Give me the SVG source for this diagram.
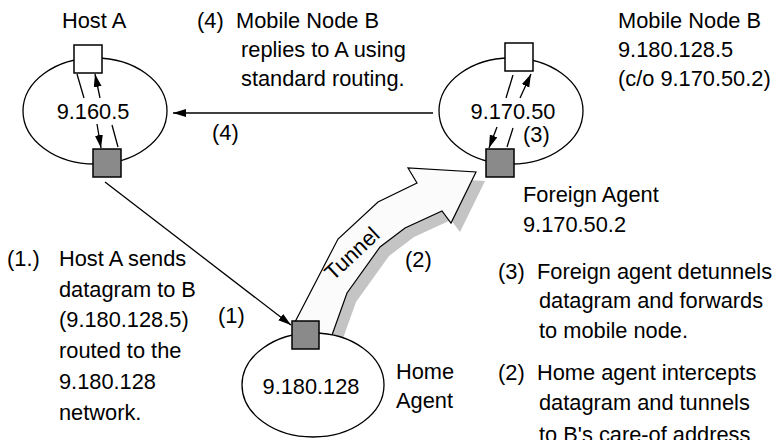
<svg xmlns="http://www.w3.org/2000/svg" width="772" height="440" viewBox="0 0 772 440">
<style>
text{font-family:"Liberation Sans",Arial,sans-serif;font-size:21.8px;fill:#000}
.net{fill:#fff;stroke:#000;stroke-width:1.3}
.host{fill:#fff;stroke:#000;stroke-width:1.5}
.agent{fill:#8a8a8a;stroke:#000;stroke-width:1.5}
.ln{stroke:#000;stroke-width:1.3;fill:none}
.arr{stroke:#000;stroke-width:1.3;fill:none;marker-end:url(#ah)}
</style>
<defs>
<marker id="ah" markerUnits="userSpaceOnUse" markerWidth="14" markerHeight="10" refX="13" refY="4" orient="auto">
<path d="M0,0 L13,4 L0,8 z" fill="#000"/>
</marker>
</defs>
<rect width="772" height="440" fill="#fff"/>

<g id="hostA-net">
<ellipse class="net" cx="95" cy="111" rx="72" ry="53"/>
<text x="93" y="119" text-anchor="middle">9.160.5</text>
</g>
<g id="mobileB-net">
<ellipse class="net" cx="511" cy="111" rx="72" ry="53"/>
<text x="513" y="119" text-anchor="middle">9.170.50</text>
</g>

<g id="tunnel">
<polygon transform="translate(9,9)" fill="#c4c4c4" points="295,322 338,239 378,202 417,183 408,168 476,172 451,223 442,211 405,228 380,247 347,293 332,335 334,345 300,345"/>
<polygon fill="#fbfbfb" stroke="#000" stroke-width="1.2" points="295,322 338,239 378,202 417,183 408,168 476,172 451,223 442,211 405,228 380,247 347,293 332,335 334,345 300,345"/>
<text x="357" y="259" text-anchor="middle" font-size="20.5" transform="rotate(-43 357 259)">Tunnel</text>
</g>

<g id="home-net">
<ellipse class="net" cx="313" cy="385" rx="71" ry="52"/>
<text x="311" y="394" text-anchor="middle">9.180.128</text>
</g>

<g id="connectors">
<line class="ln" x1="77" y1="74" x2="84" y2="98"/>
<line class="arr" x1="97" y1="124" x2="101" y2="148"/>
<line class="arr" x1="100" y1="98" x2="95" y2="74"/>
<line class="ln" x1="118" y1="147" x2="112" y2="125"/>
<line class="ln" x1="513" y1="75" x2="506" y2="98"/>
<line class="arr" x1="520" y1="98" x2="531" y2="74"/>
<line class="arr" x1="497" y1="127" x2="489" y2="148"/>
<line class="ln" x1="513" y1="128" x2="507" y2="147"/>
<line class="arr" x1="433" y1="113" x2="173" y2="113"/>
<line class="arr" x1="105" y1="182" x2="291" y2="325"/>
</g>

<g id="hostA">
<rect class="host" x="74" y="45" width="28" height="28"/>
<text x="62" y="28">Host A</text>
</g>
<g id="routerA">
<rect class="agent" x="93" y="149" width="28" height="28"/>
</g>
<g id="mobileB">
<rect class="host" x="505" y="43" width="28" height="28"/>
<text x="618" y="28">Mobile Node B</text>
<text x="618" y="57">9.180.128.5</text>
<text x="618" y="86">(c/o 9.170.50.2)</text>
</g>
<g id="foreignAgent">
<rect class="agent" x="486" y="149" width="28" height="28"/>
<text x="523" y="202">Foreign Agent</text>
<text x="523" y="232">9.170.50.2</text>
</g>
<g id="homeAgent">
<rect class="agent" x="292" y="321" width="27" height="28"/>
<text x="396" y="379">Home</text>
<text x="396" y="408">Agent</text>
</g>

<g id="labels">
<text x="212" y="140">(4)</text>
<text x="523" y="142">(3)</text>
<text x="405" y="267">(2)</text>
<text x="218" y="323">(1)</text>
<text x="197" y="28">(4)</text>
<text x="236" y="28">Mobile Node B</text>
<text x="241" y="57">replies to A using</text>
<text x="241" y="86">standard routing.</text>
<text x="7" y="266">(1.)</text>
<text x="59" y="266">Host A sends</text>
<text x="59" y="297">datagram to B</text>
<text x="59" y="327">(9.180.128.5)</text>
<text x="59" y="358">routed to the</text>
<text x="59" y="389">9.180.128</text>
<text x="59" y="420">network.</text>
<text x="498" y="279">(3)</text>
<text x="537" y="279">Foreign agent detunnels</text>
<text x="539" y="308">datagram and forwards</text>
<text x="539" y="338">to mobile node.</text>
<text x="498" y="380">(2)</text>
<text x="537" y="380">Home agent intercepts</text>
<text x="539" y="410">datagram and tunnels</text>
<text x="539" y="442">to B's care-of address</text>
</g>
</svg>
